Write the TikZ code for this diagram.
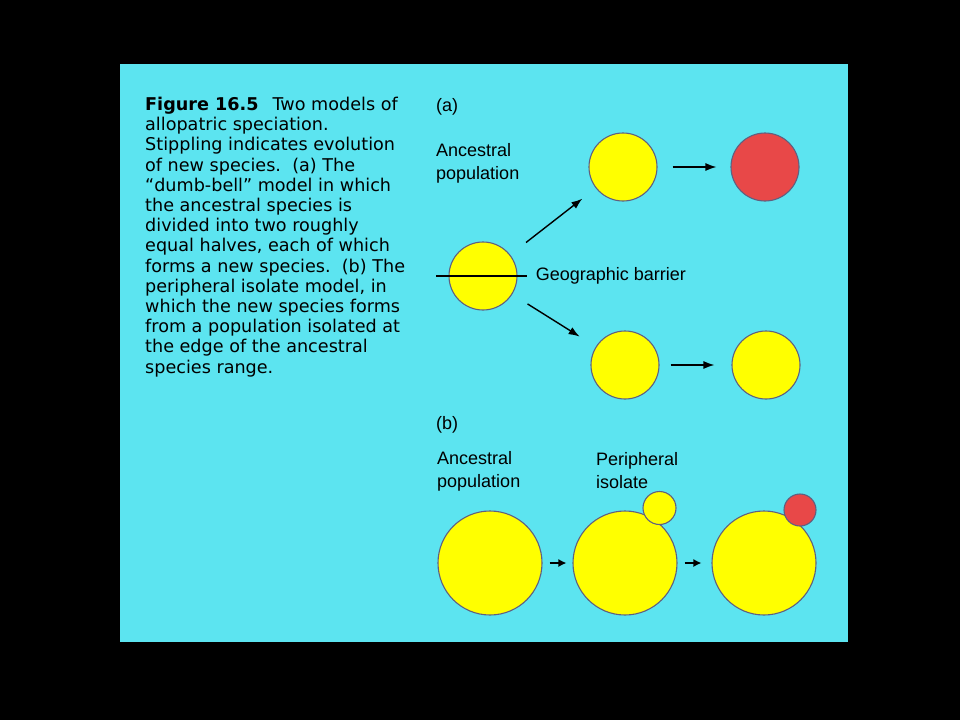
\documentclass[tikz,border=0pt]{standalone}
\usepackage{fontspec}
\setmainfont{Liberation Sans}
\newfontfamily\capfont{DejaVu Sans}
\usetikzlibrary{positioning, arrows, arrows.meta}

\definecolor{panel}{RGB}{92,228,240}
\definecolor{popyellow}{RGB}{255,255,0}
\definecolor{newred}{RGB}{232,72,72}
\definecolor{rim}{RGB}{96,96,128}

\begin{document}
\begin{tikzpicture}[x=1pt, y=-1pt,
    pop/.style={circle, draw=rim, line width=1.1pt, fill=popyellow,
      inner sep=0pt, minimum size=#1},
    link/.style={line width=1.4pt, -{Latex[length=11pt, width=8pt]}},
    step link/.style={line width=1.4pt, -{Latex[length=8pt, width=8pt]}},
    lbl/.style={font=\fontsize{18}{23}\selectfont, align=left, inner sep=0pt}]
    \useasboundingbox (0,0) rectangle (960,720);%
    \fill [black] (0,0) rectangle (960,720);%
    \fill [panel] (120,64) rectangle (848,642);%

    % Caption
    \node [anchor=north west, inner sep=0pt, align=left,
    font=\capfont\fontsize{17.6}{20.2}\selectfont] (Cap) at (145,97)
    {\textbf{Figure 16.5}\hspace{0.8em}Two models of\\
      allopatric speciation.\\
      Stippling indicates evolution\\
      of new species.\ \ (a) The\\
      “dumb-bell” model in which\\
      the ancestral species is\\
      divided into two roughly\\
      equal halves, each of which\\
      forms a new species.\ \ (b) The\\
      peripheral isolate model, in\\
      which the new species forms\\
      from a population isolated at\\
      the edge of the ancestral\\
      species range.};%

    % (a) dumb-bell model
    \node [lbl, anchor=west] (La) at (436,107) {(a)};%
    \node [lbl, anchor=west] (Anc_a) at (436,163) {Ancestral\\population};%
    \node [pop=68pt] (A0) at (483,276) {};%
    \node [pop=68pt] (A1) at (623,167) {};%
    \node [pop=68pt, fill=newred] (A2) at (765,167) {};%
    \node [pop=68pt] (A3) at (625,365) {};%
    \node [pop=68pt] (A4) at (766,365) {};%
    % -- barrier
    \draw [line width=1.2pt] ([xshift=-12pt]A0.west) -- ([xshift=9pt]A0.east);%
    \node [lbl, right=18pt of A0.east] (Bar) {Geographic barrier};%

    % (b) peripheral isolate model
    \node [lbl, anchor=west] (Lb) at (436,425) {(b)};%
    \node [lbl, anchor=west] (Anc_b) at (437,471) {Ancestral\\population};%
    \node [lbl, anchor=west] (Per) at (596,471) {Peripheral\\isolate};%
    \node [pop=104pt] (B0) at (490,563) {};%
    \node [pop=104pt] (B1) at (625,563) {};%
    \node [pop=104pt] (B2) at (764,563) {};%
    \node [pop=33pt] (P1) at (659.5,508) {};%
    \node [pop=32pt, fill=newred] (P2) at (800,510) {};%

    % arrows
    \draw [link, shorten <=20pt, shorten >=17pt] (A0) -- (A1);%
    \draw [link, shorten <=18pt, shorten >=19pt] (A0) -- (A3);%
    \draw [link, shorten <=15pt, shorten >=14pt] (A1) -- (A2);%
    \draw [link, shorten <=11pt, shorten >=17pt] (A3) -- (A4);%
    \draw [step link, shorten <=7pt, shorten >=6pt] (B0) -- (B1);%
    \draw [step link, shorten <=7pt, shorten >=10pt] (B1) -- (B2);
  \end{tikzpicture}
\end{document}
